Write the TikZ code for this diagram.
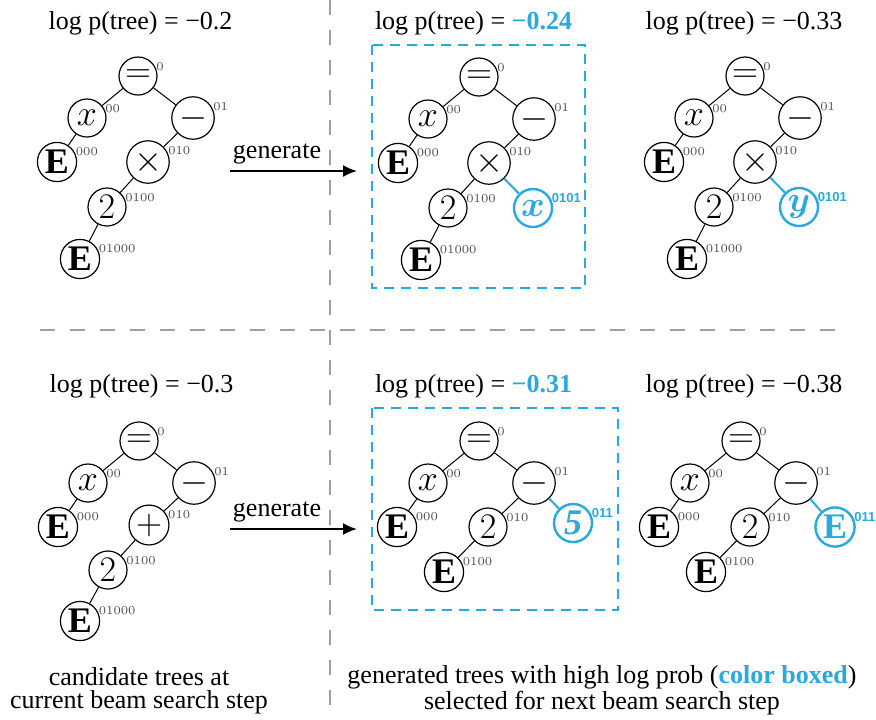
\RequirePackage{fix-cm}
\documentclass[tikz,border=0pt]{standalone}
\usepackage{amsmath}
\usepackage{amssymb}
\usepackage{bm}
\usepackage{fontspec}
\setmainfont{Liberation Serif}
\newfontfamily\idxsans{Liberation Sans}
\usetikzlibrary{arrows.meta}
\definecolor{pick}{HTML}{29A9E0}

\begin{document}
\begin{tikzpicture}[x=0.5pt, y=-0.5pt,
        tnode/.style={draw, circle, minimum size=19pt, inner sep=1pt, line width=0.6pt,
          font=\fontsize{18}{18}\selectfont, label distance=1.5pt},
        bnode/.style={tnode, draw=pick, text=pick, line width=1.2pt},
        idx/.style={anchor=west, inner sep=0.5pt, text=black!70, font=\fontsize{6}{6}\selectfont},
        bidx/.style={anchor=west, inner sep=0.5pt, text=pick, font=\fontsize{6.5}{6.5}\idxsans\bfseries},
        link/.style={line width=0.5pt},
        newlink/.style={draw=pick, line width=1pt},
        score/.style={anchor=base, font=\fontsize{13}{13}\selectfont},
        note/.style={anchor=base, align=center, font=\fontsize{13}{11.5}\selectfont},
        sep/.style={draw=gray!75, line width=1pt, dash pattern=on 7.5pt off 7.5pt},
        pickbox/.style={draw=pick, line width=1pt, dash pattern=on 5pt off 3.5pt},
        gen/.style={line width=1pt, -{Latex[length=7pt, width=6pt]}}
      ]
      \useasboundingbox (0,0) rectangle (876,719);

      % separators
      \draw[sep] (330,0) -- (330,719);
      \draw[sep] (40,330) -- (842,330);

      % scores
      \node[score] (s1) at (140.5,29) {log p(tree) = −0.2};
      \node[score] (s2) at (473.5,29) {log p(tree) = \textcolor{pick}{\textbf{−0.24}}};
      \node[score] (s3) at (744,29) {log p(tree) = −0.33};
      \node[score] (s4) at (141.5,392) {log p(tree) = −0.3};
      \node[score] (s5) at (473.5,392) {log p(tree) = \textcolor{pick}{\textbf{−0.31}}};
      \node[score] (s6) at (744,392) {log p(tree) = −0.38};

      % selected beams
      \draw[pickbox] (372,45) rectangle (585,288);
      \draw[pickbox] (372,408) rectangle (618,610);

      % tree a
      \begin{scope}[shift={(138,76)}]
        \node[tnode, label={[idx]30:$0$}] (a0) at (0,0) {$=$};
        \node[tnode, label={[idx]30:$00$}] (a00) at (-51,42) {$x$};
        \node[tnode, label={[idx]30:$01$}] (a01) at (55,42) {$-$};
        \node[tnode, label={[idx]30:$000$}] (a000) at (-81,86) {$\mathbf{E}$};
        \node[tnode, label={[idx]30:$010$}] (a010) at (10,86) {$\times$};
        \node[tnode, label={[idx]30:$0100$}] (a0100) at (-31,131) {$2$};
        \node[tnode, label={[idx]30:$01000$}] (a01000) at (-58,183) {$\mathbf{E}$};
      \end{scope}
      \draw[link] (a0) -- (a00) (a0) -- (a01) (a00) -- (a000)
        (a01) -- (a010) (a010) -- (a0100) (a0100) -- (a01000);

      % tree b
      \begin{scope}[shift={(479,77)}]
        \node[tnode, label={[idx]30:$0$}] (b0) at (0,0) {$=$};
        \node[tnode, label={[idx]30:$00$}] (b00) at (-51,42) {$x$};
        \node[tnode, label={[idx]30:$01$}] (b01) at (55,42) {$-$};
        \node[tnode, label={[idx]30:$000$}] (b000) at (-81,86) {$\mathbf{E}$};
        \node[tnode, label={[idx]30:$010$}] (b010) at (10,86) {$\times$};
        \node[tnode, label={[idx]30:$0100$}] (b0100) at (-31,131) {$2$};
        \node[tnode, label={[idx]30:$01000$}] (b01000) at (-58,183) {$\mathbf{E}$};
        \node[bnode, label={[bidx]30:0101}] (b0101) at (54,131) {$\boldsymbol{x}$};
      \end{scope}
      \draw[link] (b0) -- (b00) (b0) -- (b01) (b00) -- (b000)
        (b01) -- (b010) (b010) -- (b0100) (b0100) -- (b01000);
      \draw[newlink] (b010) -- (b0101);

      % tree c
      \begin{scope}[shift={(745,76)}]
        \node[tnode, label={[idx]30:$0$}] (c0) at (0,0) {$=$};
        \node[tnode, label={[idx]30:$00$}] (c00) at (-51,42) {$x$};
        \node[tnode, label={[idx]30:$01$}] (c01) at (55,42) {$-$};
        \node[tnode, label={[idx]30:$000$}] (c000) at (-81,86) {$\mathbf{E}$};
        \node[tnode, label={[idx]30:$010$}] (c010) at (10,86) {$\times$};
        \node[tnode, label={[idx]30:$0100$}] (c0100) at (-31,131) {$2$};
        \node[tnode, label={[idx]30:$01000$}] (c01000) at (-58,183) {$\mathbf{E}$};
        \node[bnode, label={[bidx]30:0101}] (c0101) at (54,131) {$\boldsymbol{y}$};
      \end{scope}
      \draw[link] (c0) -- (c00) (c0) -- (c01) (c00) -- (c000)
        (c01) -- (c010) (c010) -- (c0100) (c0100) -- (c01000);
      \draw[newlink] (c010) -- (c0101);

      % tree d
      \begin{scope}[shift={(139,441)}]
        \node[tnode, label={[idx]30:$0$}] (d0) at (0,0) {$=$};
        \node[tnode, label={[idx]30:$00$}] (d00) at (-51,42) {$x$};
        \node[tnode, label={[idx]30:$01$}] (d01) at (55,42) {$-$};
        \node[tnode, label={[idx]30:$000$}] (d000) at (-81,86) {$\mathbf{E}$};
        \node[tnode, label={[idx]30:$010$}] (d010) at (10,84) {$+$};
        \node[tnode, label={[idx]30:$0100$}] (d0100) at (-31,129) {$2$};
        \node[tnode, label={[idx]30:$01000$}] (d01000) at (-59,180) {$\mathbf{E}$};
      \end{scope}
      \draw[link] (d0) -- (d00) (d0) -- (d01) (d00) -- (d000)
        (d01) -- (d010) (d010) -- (d0100) (d0100) -- (d01000);

      % tree e
      \begin{scope}[shift={(479,441)}]
        \node[tnode, label={[idx]30:$0$}] (e0) at (0,0) {$=$};
        \node[tnode, label={[idx]30:$00$}] (e00) at (-51,42) {$x$};
        \node[tnode, label={[idx]30:$01$}] (e01) at (55,42) {$-$};
        \node[tnode, label={[idx]30:$000$}] (e000) at (-82,86) {$\mathbf{E}$};
        \node[tnode, label={[idx]30:$010$}] (e010) at (9,86) {$2$};
        \node[tnode, label={[idx]30:$0100$}] (e0100) at (-35,131) {$\mathbf{E}$};
        \node[bnode, label={[bidx]30:011}] (e011) at (94,82) {$\boldsymbol{\mathit{5}}$};
      \end{scope}
      \draw[link] (e0) -- (e00) (e0) -- (e01) (e00) -- (e000)
        (e01) -- (e010) (e010) -- (e0100);
      \draw[newlink] (e01) -- (e011);

      % tree f
      \begin{scope}[shift={(741,441)}]
        \node[tnode, label={[idx]30:$0$}] (f0) at (0,0) {$=$};
        \node[tnode, label={[idx]30:$00$}] (f00) at (-51,42) {$x$};
        \node[tnode, label={[idx]30:$01$}] (f01) at (55,42) {$-$};
        \node[tnode, label={[idx]30:$000$}] (f000) at (-82,86) {$\mathbf{E}$};
        \node[tnode, label={[idx]30:$010$}] (f010) at (9,86) {$2$};
        \node[tnode, label={[idx]30:$0100$}] (f0100) at (-35,131) {$\mathbf{E}$};
        \node[bnode, label={[bidx]30:011}] (f011) at (94,86) {$\mathbf{E}$};
      \end{scope}
      \draw[link] (f0) -- (f00) (f0) -- (f01) (f00) -- (f000)
        (f01) -- (f010) (f010) -- (f0100);
      \draw[newlink] (f01) -- (f011);

      % generate steps
      \coordinate (g1a) at (230,171);
      \coordinate (g1b) at (357,171);
      \draw[gen] (g1a) -- (g1b);
      \node[score] (g1t) at (277,158) {generate};
      \coordinate (g2a) at (230,529);
      \coordinate (g2b) at (357,529);
      \draw[gen] (g2a) -- (g2b);
      \node[score] (g2t) at (277,516) {generate};

      % captions (base sits on the last line)
      \node[note] (n1) at (139,708) {candidate trees at\\current beam search step};
      \node[note] (n2) at (602,709) {generated trees with high log prob (\textcolor{pick}{\textbf{color boxed}})\\selected for next beam search step};

    \end{tikzpicture}
\end{document}
